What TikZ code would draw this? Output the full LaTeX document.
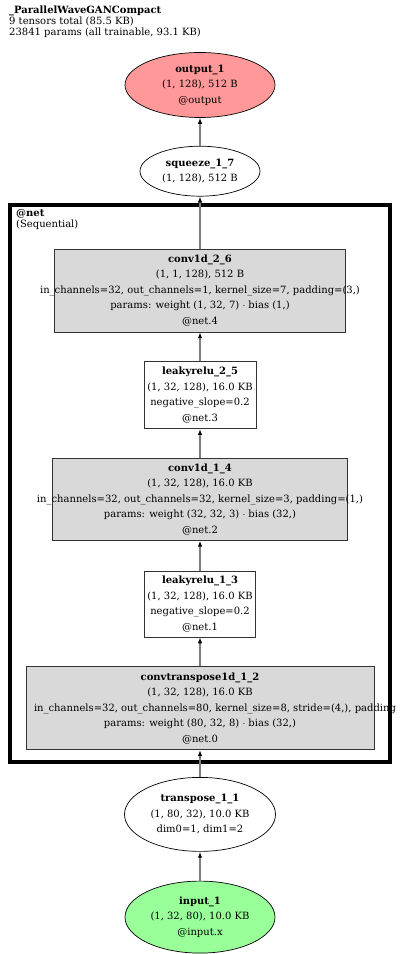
\documentclass[tikz,border=0pt]{standalone}
\usepackage{fontspec}
\setmainfont{DejaVu Serif}
\usetikzlibrary{arrows.meta, positioning, shapes.geometric}
\newcommand{\zl}[1]{\makebox[0pt][c]{#1}}
\newcommand{\zll}[2]{\makebox[0pt][l]{\hspace*{#1}#2}}
\definecolor{outred}{HTML}{FF9999}
\definecolor{ingreen}{HTML}{99FF99}
\definecolor{modgray}{HTML}{D9D9D9}

\begin{document}
\begin{tikzpicture}[x=1pt, y=1pt,
  every node/.style={font=\fontsize{10}{15.5}\selectfont, align=center, inner sep=0pt},
  tensor/.style={ellipse, draw, line width=0.7pt},
  module/.style={rectangle, draw=black!80, line width=0.7pt, fill=modgray},
  plainmod/.style={rectangle, draw=black!80, line width=0.7pt, fill=white},
  flow/.style={draw=black!50, line width=1.4pt, -{Latex[color=black, length=6pt, width=4.5pt]}}]
  \useasboundingbox (0,0) rectangle (400,954);
  % caption
  \node (title) [anchor=north west, align=left, font=\fontsize{10}{11}\selectfont]
    at (9,948) {\textbf{\_ParallelWaveGANCompact}\\9 tensors total (85.5 KB)\\23841 params (all trainable, 93.1 KB)};
  % the wrapping module
  \draw[line width=4pt] (10,749) rectangle (390,192);
  \node (netlbl) [anchor=north west, align=left, font=\fontsize{10}{11}\selectfont]
    at (16,745) {\textbf{@net}\\(Sequential)};
  % nodes, top to bottom
  \node (out) [tensor, fill=outred, minimum width=150pt, minimum height=65pt] at (200,869)
    {\zl{\textbf{output\_1}}\\\zl{(1, 128), 512 B}\\\zl{@output}};
  \node (sq) [tensor, fill=white, minimum width=120pt, minimum height=50pt, below=28pt of out]
    {\zl{\textbf{squeeze\_1\_7}}\\\zl{(1, 128), 512 B}};
  \node (c26) [module, minimum width=291pt, minimum height=83pt, below=52pt of sq]
    {\zl{\textbf{conv1d\_2\_6}}\\\zl{(1, 1, 128), 512 B}\\\zl{in\_channels=32, out\_channels=1, kernel\_size=7, padding=(3,)}\\\zl{params: weight (1, 32, 7) $\cdot$ bias (1,)}\\\zl{@net.4}};
  \node (lr25) [plainmod, minimum width=112pt, minimum height=67pt, below=29pt of c26]
    {\zl{\textbf{leakyrelu\_2\_5}}\\\zl{(1, 32, 128), 16.0 KB}\\\zl{negative\_slope=0.2}\\\zl{@net.3}};
  \node (c14) [module, minimum width=295pt, minimum height=82pt, below=29pt of lr25]
    {\zl{\textbf{conv1d\_1\_4}}\\\zl{(1, 32, 128), 16.0 KB}\\\zl{in\_channels=32, out\_channels=32, kernel\_size=3, padding=(1,)}\\\zl{params: weight (32, 32, 3) $\cdot$ bias (32,)}\\\zl{@net.2}};
  \node (lr13) [plainmod, minimum width=111pt, minimum height=66pt, below=30pt of c14]
    {\zl{\textbf{leakyrelu\_1\_3}}\\\zl{(1, 32, 128), 16.0 KB}\\\zl{negative\_slope=0.2}\\\zl{@net.1}};
  \node (ct12) [module, minimum width=348pt, minimum height=83pt, below=29pt of lr13]
    {\zl{\textbf{convtranspose1d\_1\_2}}\\\zl{(1, 32, 128), 16.0 KB}\\\zll{-166pt}{in\_channels=32, out\_channels=80, kernel\_size=8, stride=(4,), padding}\\\zl{params: weight (80, 32, 8) $\cdot$ bias (32,)}\\\zl{@net.0}};
  \node (tr) [tensor, fill=white, minimum width=151pt, minimum height=74pt, below=27pt of ct12]
    {\zl{\textbf{transpose\_1\_1}}\\\zl{(1, 80, 32), 10.0 KB}\\\zl{dim0=1, dim1=2}};
  \node (in) [tensor, fill=ingreen, minimum width=150pt, minimum height=72pt, below=29pt of tr]
    {\zl{\textbf{input\_1}}\\\zl{(1, 32, 80), 10.0 KB}\\\zl{@input.x}};
  % data flow, bottom to top
  \draw[flow] (in) -- (tr);
  \draw[flow] (tr) -- (ct12);
  \draw[flow] (ct12) -- (lr13);
  \draw[flow] (lr13) -- (c14);
  \draw[flow] (c14) -- (lr25);
  \draw[flow] (lr25) -- (c26);
  \draw[flow] (c26) -- (sq);
  \draw[flow] (sq) -- (out);
\end{tikzpicture}
\end{document}
